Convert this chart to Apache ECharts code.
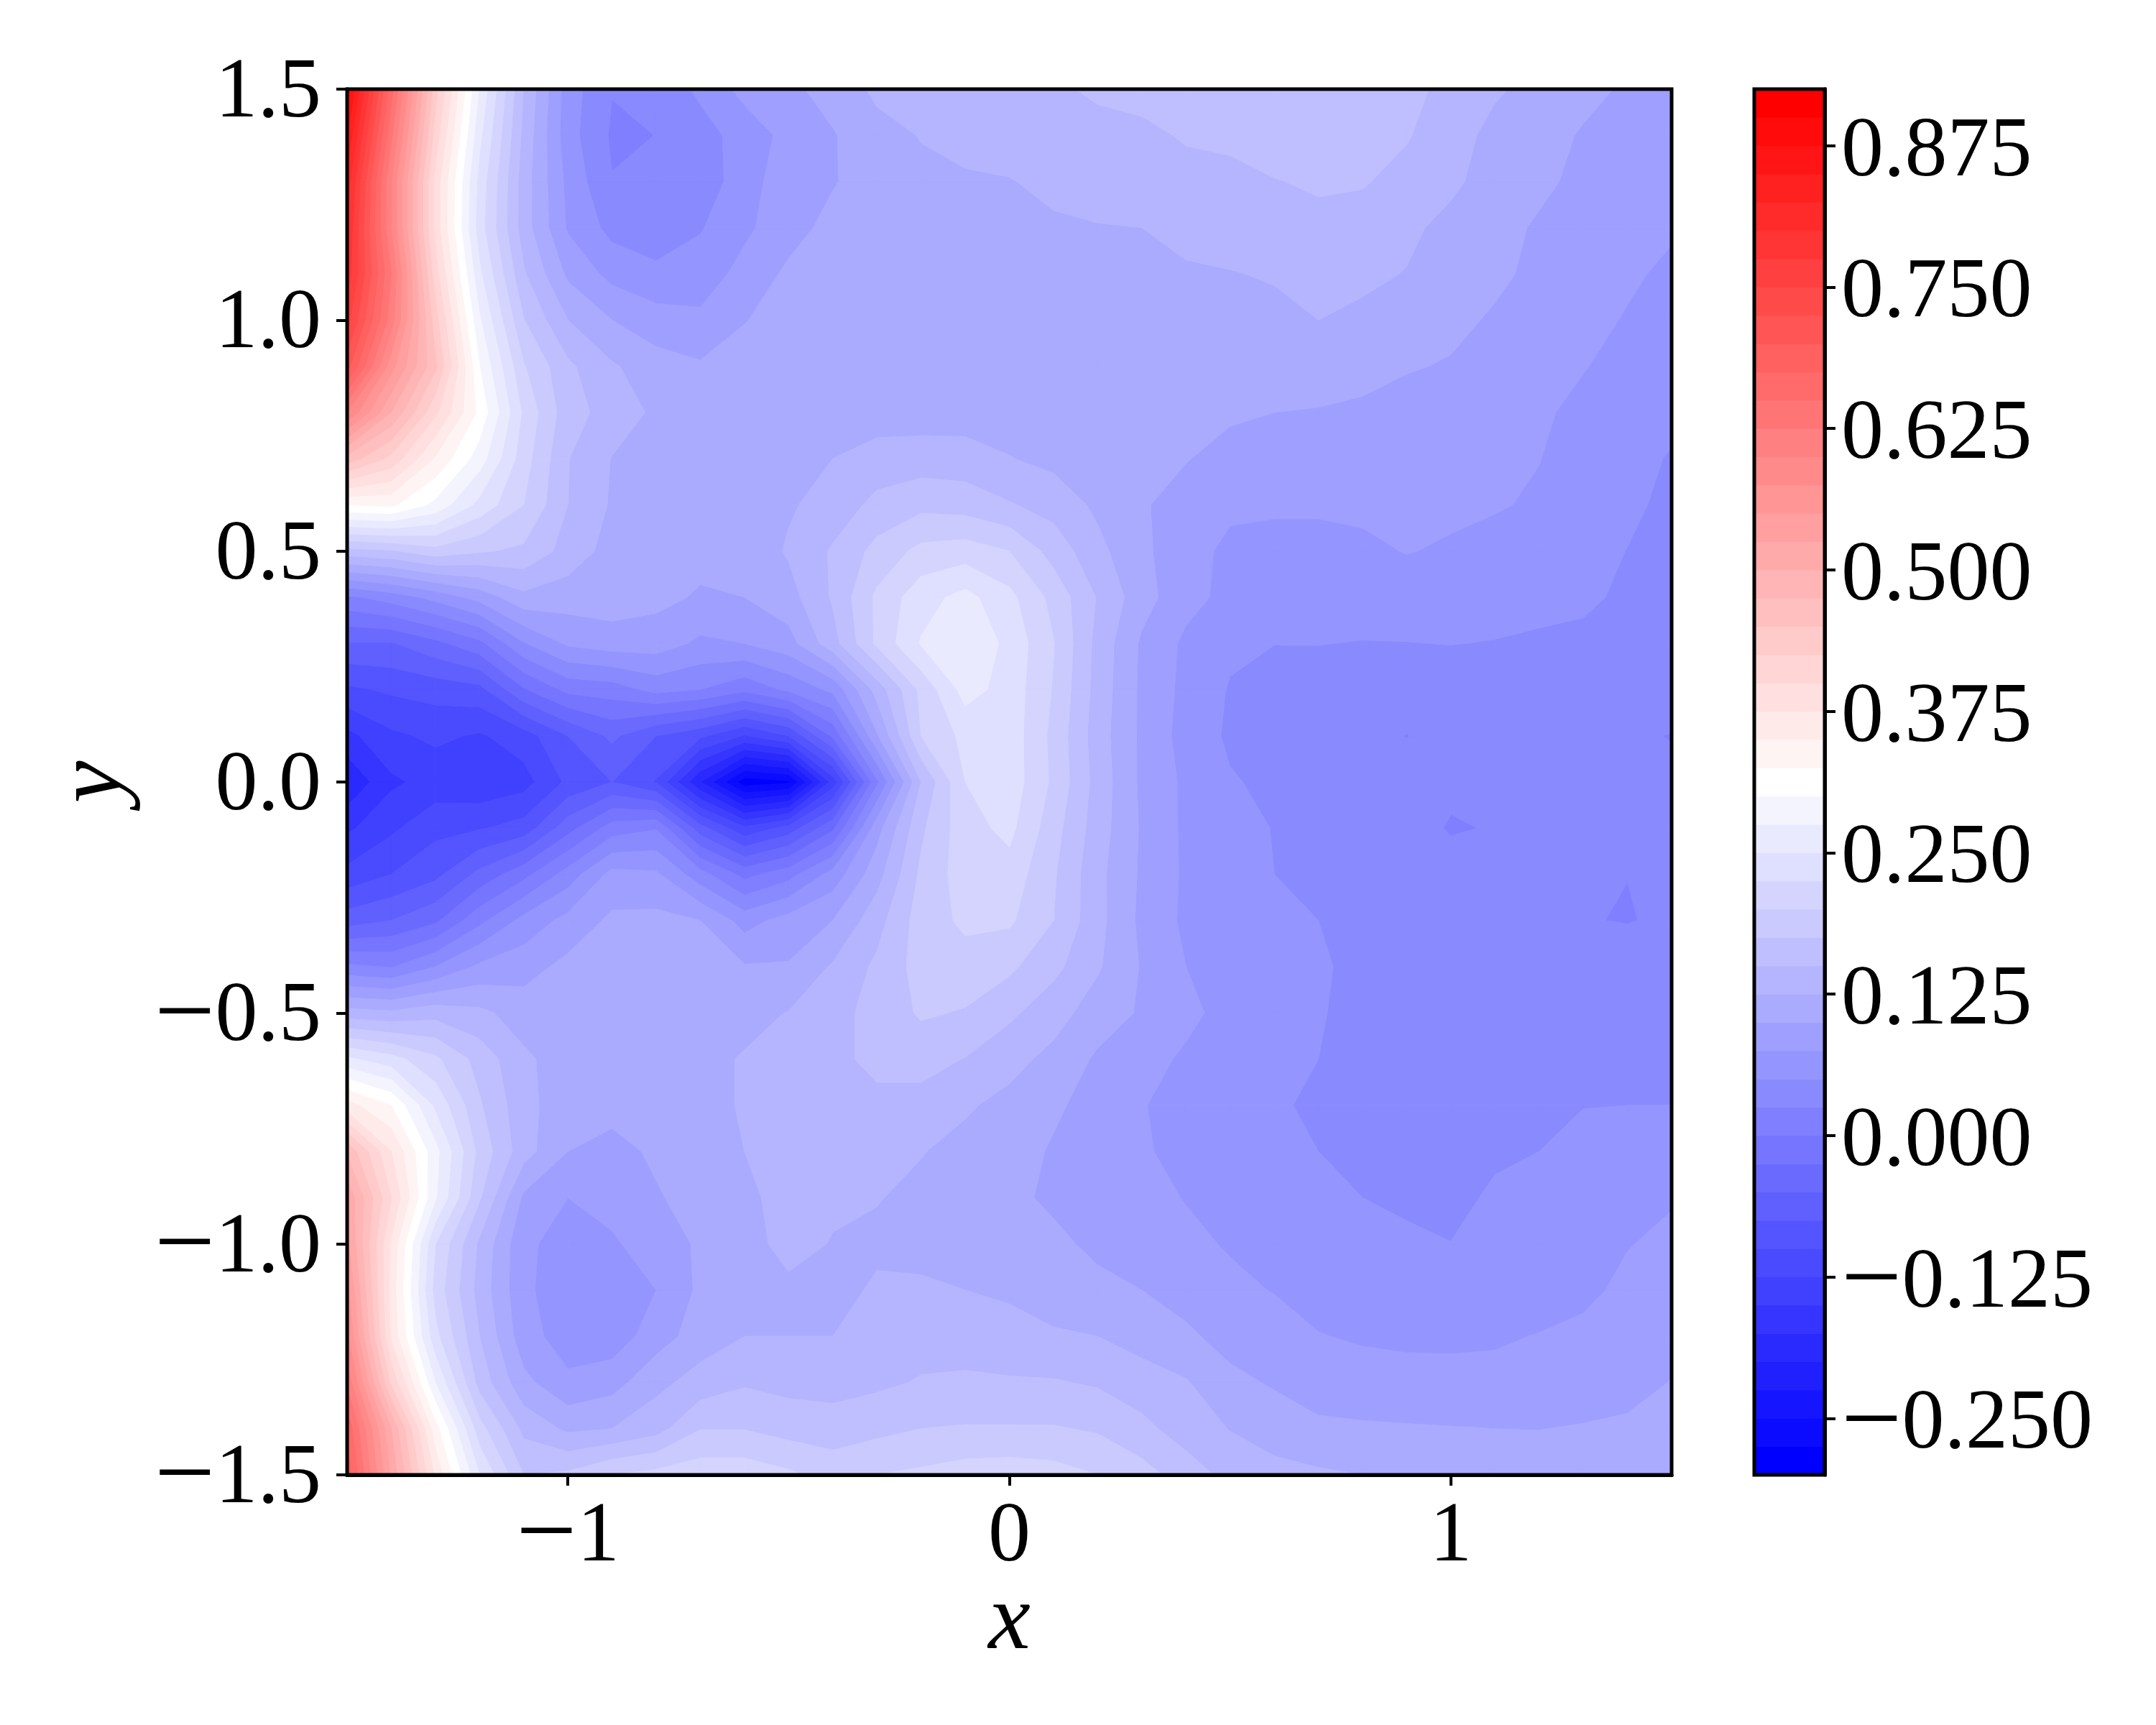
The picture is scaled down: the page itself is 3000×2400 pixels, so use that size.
<!DOCTYPE html>
<html>
<head>
<meta charset="utf-8">
<title>Contour</title>
<script src="https://cdn.jsdelivr.net/npm/echarts@6/dist/echarts.min.js"></script>
<style>html,body{margin:0;background:#fff}#chart{width:3000px;height:2400px}</style>
</head>
<body>
<div id="chart"></div>
<script>
var xNodes = [-1.5,-1.4,-1.3,-1.2,-1.1,-1.0,-0.9,-0.8,-0.7,-0.6,-0.5,-0.4,-0.3,-0.2,-0.1,0,0.1,0.2,0.3,0.4,0.5,0.6,0.7,0.8,0.9,1.0,1.1,1.2,1.3,1.4,1.5];
var yNodes = [1.5,1.4,1.3,1.2,1.1,1.0,0.9,0.8,0.7,0.6,0.5,0.4,0.3,0.2,0.1,0,-0.1,-0.2,-0.3,-0.4,-0.5,-0.6,-0.7,-0.8,-0.9,-1.0,-1.1,-1.2,-1.3,-1.4,-1.5];
// one row per yNodes entry
var zRows = [
[.89,.66,.434,.272,.149,.062,.026,.032,.055,.083,.094,.11,.13,.135,.14,.143,.147,.153,.16,.162,.165,.165,.165,.16,.155,.145,.128,.118,.106,.097,.09],
[.85,.63,.413,.256,.143,.06,.0215,.0252,.04,.06,.083,.098,.117,.126,.13,.135,.14,.144,.143,.153,.157,.162,.165,.16,.152,.135,.118,.108,.098,.09,.085],
[.815,.6,.39,.241,.137,.068,.026,.029,.036,.062,.092,.098,.113,.12,.123,.124,.13,.134,.137,.14,.141,.149,.153,.152,.142,.13,.114,.105,.094,.087,.08],
[.8,.6,.39,.236,.137,.072,.042,.032,.048,.07,.09,.108,.115,.118,.12,.12,.122,.124,.125,.132,.135,.139,.144,.14,.13,.118,.108,.097,.09,.084,.078],
[.79,.625,.41,.255,.153,.095,.067,.057,.062,.083,.105,.11,.113,.115,.117,.118,.119,.12,.121,.122,.124,.127,.133,.13,.124,.112,.105,.094,.086,.079,.07],
[.76,.612,.435,.278,.176,.125,.1,.085,.08,.099,.11,.113,.115,.115,.116,.116,.117,.118,.118,.118,.118,.119,.125,.12,.115,.106,.097,.088,.083,.073,.066],
[.71,.56,.455,.3,.202,.155,.128,.111,.103,.11,.112,.114,.114,.114,.114,.114,.115,.115,.115,.115,.115,.115,.116,.113,.102,.098,.09,.082,.076,.068,.062],
[.6,.5,.405,.318,.22,.16,.14,.12,.112,.113,.113,.113,.113,.113,.113,.113,.112,.112,.112,.11,.103,.1,.098,.093,.09,.086,.081,.078,.07,.066,.056],
[.465,.417,.347,.287,.211,.151,.124,.112,.11,.109,.112,.125,.135,.137,.136,.126,.118,.112,.108,.101,.093,.09,.09,.088,.086,.085,.081,.0755,.066,.058,.048],
[.325,.33,.293,.242,.2,.15,.122,.112,.11,.11,.122,.135,.157,.168,.164,.152,.14,.12,.102,.092,.08,.078,.078,.08,.082,.08,.077,.072,.067,.055,.044],
[.165,.172,.19,.178,.17,.14,.115,.11,.108,.107,.128,.153,.183,.207,.212,.2,.165,.132,.105,.085,.069,.068,.068,.07,.076,.072,.067,.063,.059,.0495,.042],
[.02,.036,.058,.084,.118,.112,.113,.107,.097,.1,.115,.153,.205,.24,.258,.232,.192,.148,.11,.083,.068,.066,.064,.063,.062,.061,.06,.056,.054,.046,.04],
[-.052,-.052,-.032,-.007,.048,.079,.088,.087,.07,.075,.09,.14,.205,.252,.272,.243,.201,.142,.096,.07,.055,.0503,.0505,.049,.0495,.0505,.049,.047,.045,.041,.038],
[-.105,-.096,-.09,-.083,-.028,.007,.012,.033,.025,.006,.03,.056,.135,.206,.26,.24,.198,.14,.095,.068,.048,.042,.04,.038,.036,.036,.037,.037,.036,.034,.033],
[-.158,-.13,-.12,-.128,-.112,-.075,-.045,-.075,-.095,-.127,-.1,-.02,.097,.2,.232,.24,.193,.137,.095,.065,.046,.042,.038,.031,.0245,.032,.034,.034,.031,.027,.0245],
[-.197,-.155,-.14,-.145,-.135,-.095,-.075,-.102,-.2,-.29,-.28,-.14,.02,.15,.225,.24,.195,.14,.095,.07,.052,.045,.04,.035,.032,.032,.033,.035,.033,.03,.028],
[-.155,-.13,-.107,-.102,-.09,-.035,.012,.023,-.065,-.12,-.09,-.03,.09,.17,.215,.232,.185,.137,.097,.07,.059,.049,.042,.038,.04,.022,.027,.033,.033,.03,.03],
[-.117,-.1,-.082,-.043,-.008,.036,.083,.079,.035,-.008,.015,.06,.115,.18,.213,.215,.178,.132,.096,.071,.062,.05,.04,.036,.036,.04,.033,.033,.031,.0253,.031],
[-.062,-.05,-.03,.018,.058,.083,.105,.107,.1,.065,.085,.1,.14,.187,.205,.204,.175,.133,.094,.07,.064,.057,.05,.043,.04,.035,.031,.029,.0265,.0235,.03],
[.03,.023,.05,.08,.09,.107,.11,.112,.112,.102,.102,.128,.155,.185,.19,.18,.157,.128,.098,.075,.068,.061,.053,.044,.041,.04,.039,.038,.039,.045,.04],
[.135,.13,.14,.131,.113,.11,.112,.114,.115,.117,.126,.14,.16,.178,.173,.155,.135,.113,.097,.08,.068,.06,.052,.042,.038,.037,.037,.038,.04,.04,.04],
[.255,.235,.205,.165,.13,.112,.112,.115,.118,.127,.132,.14,.16,.16,.149,.133,.118,.096,.082,.072,.065,.058,.05,.045,.04,.037,.036,.036,.037,.038,.038],
[.36,.325,.245,.178,.133,.11,.11,.113,.118,.127,.128,.13,.14,.14,.128,.118,.103,.093,.076,.068,.06,.053,.046,.042,.038,.036,.036,.037,.0495,.05,.05],
[.47,.375,.283,.192,.135,.1,.09,.105,.112,.125,.13,.13,.13,.126,.118,.108,.098,.087,.078,.067,.06,.054,.05,.044,.041,.04,.045,.05,.056,.057,.056],
[.52,.4,.278,.178,.095,.075,.08,.097,.112,.12,.133,.128,.126,.12,.115,.105,.096,.09,.082,.074,.067,.06,.055,.05,.045,.041,.055,.06,.062,.065,.073],
[.53,.37,.225,.145,.08,.065,.073,.082,.105,.118,.131,.124,.121,.115,.113,.108,.105,.095,.088,.08,.073,.068,.062,.056,.055,.0505,.058,.063,.068,.074,.08],
[.555,.365,.215,.14,.08,.06,.07,.075,.105,.11,.121,.118,.128,.13,.125,.122,.113,.106,.1,.089,.08,.074,.066,.062,.06,.058,.06,.063,.07,.08,.083],
[.58,.37,.232,.15,.085,.063,.06,.088,.112,.125,.125,.125,.135,.14,.136,.132,.128,.125,.115,.105,.09,.085,.076,.072,.07,.07,.072,.076,.08,.085,.09],
[.62,.42,.275,.165,.107,.08,.09,.118,.135,.147,.142,.14,.145,.152,.155,.153,.152,.147,.136,.127,.107,.097,.09,.086,.084,.083,.082,.083,.085,.09,.101],
[.67,.5,.335,.21,.143,.12,.125,.14,.174,.174,.165,.162,.168,.175,.177,.177,.177,.172,.157,.138,.124,.115,.104,.103,.102,.101,.1,.0995,.102,.105,.115],
[.69,.52,.37,.25,.175,.18,.2,.208,.215,.215,.205,.19,.2,.205,.212,.214,.21,.2,.185,.163,.142,.132,.129,.125,.122,.118,.115,.113,.113,.117,.122]
];
var levels = [-0.3,-0.275,-0.25,-0.225,-0.2,-0.175,-0.15,-0.125,-0.1,-0.075,-0.05,-0.025,0,0.025,0.05,0.075,0.1,0.125,0.15,0.175,0.2,0.225,0.25,0.275,0.3,0.325,0.35,0.375,0.4,0.425,0.45,0.475,0.5,0.525,0.55,0.575,0.6,0.625,0.65,0.675,0.7,0.725,0.75,0.775,0.8,0.825,0.85,0.875,0.9,0.925];
var xTicks = [-1,0,1];
var xTickLabels = ['\u22121','0','1'];
var yTicks = [-1.5,-1,-0.5,0,0.5,1,1.5];
var yTickLabels = ['\u22121.5','\u22121.0','\u22120.5','0.0','0.5','1.0','1.5'];
var barTicks = [-0.25,-0.125,0,0.125,0.25,0.375,0.5,0.625,0.75,0.875];
var barTickLabels = ['\u22120.250','\u22120.125','0.000','0.125','0.250','0.375','0.500','0.625','0.750','0.875'];

var FONT = 'Liberation Serif';
var FONT_SIZE = 118;

// matplotlib bwr, taken at the middle of the band
function bandColor(lo, hi) {
    var mid0 = (levels[0] + levels[1]) / 2;
    var mid1 = (levels[levels.length - 2] + levels[levels.length - 1]) / 2;
    var t = ((lo + hi) / 2 - mid0) / (mid1 - mid0);
    var r = t < 0.5 ? 2 * t : 1;
    var b = t < 0.5 ? 1 : 2 - 2 * t;
    var g = t < 0.5 ? 2 * t : 2 - 2 * t;
    return 'rgb(' + Math.round(r * 255) + ',' + Math.round(g * 255) + ',' + Math.round(b * 255) + ')';
}

// clip a polygon of [x, y, z] to z >= limit (sign 1) or z <= limit (sign -1)
function clipZ(poly, limit, sign) {
    var out = [];
    for (var k = 0; k < poly.length; k++) {
        var a = poly[k], b = poly[(k + 1) % poly.length];
        var inA = sign * (a[2] - limit) >= 0, inB = sign * (b[2] - limit) >= 0;
        if (inA) out.push(a);
        if (inA !== inB) {
            var f = (limit - a[2]) / (b[2] - a[2]);
            out.push([a[0] + f * (b[0] - a[0]), a[1] + f * (b[1] - a[1]), limit]);
        }
    }
    return out;
}

function renderBand(params, api) {
    var lo = api.value(0), hi = api.value(1);
    var color = bandColor(lo, hi);
    var children = [];
    for (var j = 0; j < yNodes.length - 1; j++) {
        for (var i = 0; i < xNodes.length - 1; i++) {
            var cell = [
                [xNodes[i], yNodes[j], zRows[j][i]],
                [xNodes[i + 1], yNodes[j], zRows[j][i + 1]],
                [xNodes[i + 1], yNodes[j + 1], zRows[j + 1][i + 1]],
                [xNodes[i], yNodes[j + 1], zRows[j + 1][i]]
            ];
            var poly = clipZ(clipZ(cell, lo, 1), hi, -1);
            if (poly.length < 3) continue;
            children.push({
                type: 'polygon',
                shape: { points: poly.map(function (p) { return api.coord([p[0], p[1]]); }) },
                style: { fill: color, stroke: color, lineWidth: 1 }
            });
        }
    }
    return { type: 'group', children: children };
}

function renderBarBand(params, api) {
    var lo = api.value(0), hi = api.value(1);
    var a = api.coord([0, hi]), b = api.coord([1, lo]);
    var color = bandColor(lo, hi);
    return {
        type: 'rect',
        shape: { x: a[0], y: a[1], width: b[0] - a[0], height: b[1] - a[1] },
        style: { fill: color, stroke: color, lineWidth: 1 }
    };
}

var bands = [];
for (var n = 0; n < levels.length - 1; n++) bands.push([levels[n], levels[n + 1]]);

// the minus sign gets its own rich token, drawn larger, as in the TeX labels
function labelText(ticks, labels) {
    return function (v) {
        for (var k = 0; k < ticks.length; k++) {
            if (Math.abs(ticks[k] - v) < 1e-6) {
                var s = labels[k];
                return s.charAt(0) === '\u2212' ? '{m|\u2212}{t|' + s.slice(1) + '}' : '{t|' + s + '}';
            }
        }
        return '';
    };
}

function richLabels(topPad) {
    return {
        t: { color: '#000', fontFamily: FONT, fontSize: FONT_SIZE, lineHeight: 120, padding: [topPad, 0, 0, 0] },
        m: { color: '#000', fontFamily: FONT, fontSize: 150, lineHeight: 120, padding: [topPad, 0, 0, 0] }
    };
}

var tick = { show: true, length: 15, lineStyle: { color: '#000', width: 4 } };
var line = { show: true, onZero: false, lineStyle: { color: '#000', width: 5 } };
var nameStyle = { color: '#000', fontFamily: FONT, fontSize: 132, fontStyle: 'italic' };

var option = {
    backgroundColor: '#fff',
    animation: false,
    grid: [
        { left: 483, top: 124, width: 1843, height: 1928, show: true, backgroundColor: 'transparent', borderColor: '#000', borderWidth: 5, z: 5 },
        { left: 2441, top: 124, width: 98, height: 1928, show: true, backgroundColor: 'transparent', borderColor: '#000', borderWidth: 5, z: 5 }
    ],
    xAxis: [
        {
            type: 'value', gridIndex: 0, min: -1.5, max: 1.5,
            name: 'x', nameLocation: 'middle', nameGap: 140, nameMoveOverlap: false,
            nameTextStyle: nameStyle,
            axisLine: line, splitLine: { show: false },
            axisTick: Object.assign({ customValues: xTicks }, tick),
            axisLabel: { customValues: xTicks, margin: 28, formatter: labelText(xTicks, xTickLabels), rich: richLabels(0) }
        },
        { type: 'value', gridIndex: 1, min: 0, max: 1, show: false }
    ],
    yAxis: [
        {
            type: 'value', gridIndex: 0, min: -1.5, max: 1.5, interval: 0.5,
            name: 'y', nameLocation: 'middle', nameGap: 285, nameRotate: 90,
            nameTextStyle: nameStyle,
            axisLine: line, splitLine: { show: false },
            axisTick: tick,
            axisLabel: { margin: 36, formatter: labelText(yTicks, yTickLabels), rich: richLabels(14) }
        },
        {
            type: 'value', gridIndex: 1, position: 'right', min: levels[0], max: levels[levels.length - 1],
            axisLine: line, splitLine: { show: false },
            axisTick: Object.assign({ customValues: barTicks }, tick),
            axisLabel: { customValues: barTicks, margin: 23, formatter: labelText(barTicks, barTickLabels), rich: richLabels(20) }
        }
    ],
    series: [
        { type: 'custom', xAxisIndex: 0, yAxisIndex: 0, z: 1, clip: true, progressive: 0, silent: true,
          dimensions: ['lo', 'hi'], encode: { x: -1, y: -1 }, renderItem: renderBand, data: bands },
        { type: 'custom', xAxisIndex: 1, yAxisIndex: 1, z: 1, clip: true, progressive: 0, silent: true,
          dimensions: ['lo', 'hi'], encode: { x: -1, y: -1 }, renderItem: renderBarBand, data: bands }
    ]
};

var myChart = echarts.init(document.getElementById('chart'), null, { renderer: 'canvas' });
myChart.setOption(option);
</script>
</body>
</html>
